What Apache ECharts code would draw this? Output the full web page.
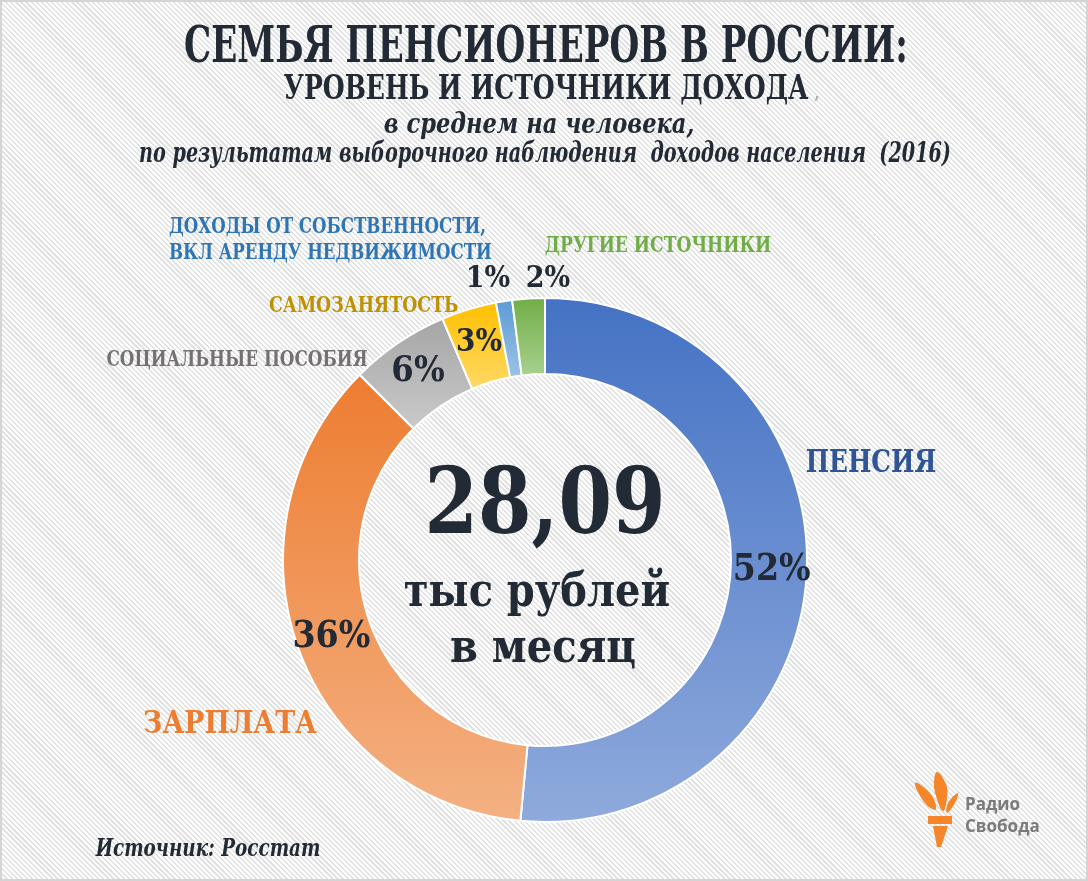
<!DOCTYPE html>
<html>
<head>
<meta charset="utf-8">
<script src="https://cdn.jsdelivr.net/npm/echarts@6/dist/echarts.min.js"></script>
<style>
html,body{margin:0;padding:0;}
body{width:1088px;height:881px;overflow:hidden;
background:repeating-linear-gradient(45deg,#ffffff 0px,#ffffff 2px,#e2e2e2 2px,#e2e2e2 3.6px);}
#chart{width:1084px;height:877px;border:2px solid #d4d4d4;}
</style>
</head>
<body>
<div id="chart"></div>
<script>
// ---- data ----
const categories = ['ПЕНСИЯ', 'ЗАРПЛАТА', 'СОЦИАЛЬНЫЕ ПОСОБИЯ', 'САМОЗАНЯТОСТЬ',
  'ДОХОДЫ ОТ СОБСТВЕННОСТИ,\nВКЛ АРЕНДУ НЕДВИЖИМОСТИ', 'ДРУГИЕ ИСТОЧНИКИ'];
const shares = [51.5, 36.0, 6.1, 3.4, 1.0, 2.0];
const totalIncome = '28,09';
const totalUnit = ['тыс рублей', 'в месяц'];
const titleLines = ['СЕМЬЯ ПЕНСИОНЕРОВ В РОССИИ:', 'УРОВЕНЬ И ИСТОЧНИКИ ДОХОДА',
  'в среднем на человека,', 'по результатам выборочного наблюдения  доходов населения  (2016)'];
const sourceText = 'Источник: Росстат';
const logoText = ['Радио', 'Свобода'];

// ---- styles ----
const FF = '"DejaVu Serif Condensed","DejaVu Serif",serif';
const DARK = '#222a35';
const grads = [['#4472c4', '#8faadc'], ['#ed7d31', '#f4b183'], ['#a5a5a5', '#cacaca'],
  ['#ffc000', '#ffd966'], ['#5b9bd5', '#9dc3e6'], ['#70ad47', '#a9d18e']];
const nameColors = ['#2f5597', '#ed7d31', '#767171', '#bf9000', '#2e75b6', '#70ad47'];
const nameLayout = [
  {x: 869, y: 462, size: 32, align: 'center', sx: 0.86},
  {x: 228, y: 723, size: 32, align: 'center', sx: 0.93},
  {x: 235, y: 358, size: 22, align: 'center', sx: 0.85},
  {x: 267, y: 304, size: 22, align: 'left', sx: 0.875},
  {x: 167, y: 238, size: 22, align: 'left', sx: 0.84},
  {x: 656, y: 244, size: 22, align: 'center', sx: 0.866}
];
const pctFont = [37, 37, 36, 31, 30, 30];
const pctPos = {4: [486, 277], 5: [546, 277]};

const chart = echarts.init(document.getElementById('chart'), null, {renderer: 'canvas'});

function txt(text, x, y, size, color, opts) {
  opts = opts || {};
  return {
    type: 'text', x: x, y: y, scaleX: opts.sx || 1, z: 10,
    style: {
      text: text, fill: color,
      font: (opts.italic ? 'italic ' : '') + 'bold ' + size + 'px ' + FF,
      align: opts.align || 'center', verticalAlign: 'middle',
      lineHeight: opts.lh || size * 1.2
    }
  };
}

const graphics = [
  txt(titleLines[0], 544, 47, 50, DARK, {sx: 0.76}),
  txt(titleLines[1], 544, 88, 34, DARK, {sx: 0.82}),
  txt(',', 815, 93, 16, '#b0b0b0'),
  txt(titleLines[2], 537, 124, 27, DARK, {italic: true, sx: 0.93}),
  txt(titleLines[3], 543, 153, 27, DARK, {italic: true, sx: 0.79}),
  txt(totalIncome, 543, 507, 92, DARK, {sx: 0.93}),
  txt(totalUnit[0], 535, 592, 46, DARK, {sx: 0.965}),
  txt(totalUnit[1], 541, 648, 46, DARK, {sx: 0.97}),
  txt(sourceText, 206, 848, 24, DARK, {italic: true, sx: 0.85})
];
categories.forEach(function (c, i) {
  const L = nameLayout[i];
  graphics.push(txt(c, L.x, L.y, L.size, nameColors[i], {align: L.align, sx: L.sx, lh: 26}));
});
// logo (torch)
const ORANGE = '#f5862a';
function leaf(pts) {
  return {type: 'polygon', z: 10, shape: {points: pts, smooth: 0.4}, style: {fill: ORANGE}};
}
graphics.push(
  leaf([[913, 781], [925, 788], [933, 800], [933, 808], [922, 800]]),
  leaf([[935, 770], [944, 782], [945, 796], [941, 809], [934, 794], [932, 781]]),
  leaf([[956, 791], [953, 801], [945, 811], [946, 801]]),
  {type: 'polygon', z: 10, shape: {points: [[926, 814], [950, 814], [950, 822], [926, 822]]}, style: {fill: ORANGE}},
  {type: 'polygon', z: 10, shape: {points: [[931, 824], [946, 824], [939, 845], [935, 845]]}, style: {fill: ORANGE}},
  {type: 'text', x: 963, y: 803, z: 10, style: {text: logoText[0], fill: '#7b7b7b', font: 'bold 17px "Open Sans",sans-serif', align: 'left', verticalAlign: 'middle'}},
  {type: 'text', x: 963, y: 825, z: 10, style: {text: logoText[1], fill: '#7b7b7b', font: 'bold 17px "Open Sans",sans-serif', align: 'left', verticalAlign: 'middle'}}
);

const pieData = shares.map(function (v, i) {
  return {
    name: categories[i], value: v,
    itemStyle: {color: new echarts.graphic.LinearGradient(0, 0, 0, 1, [
      {offset: 0, color: grads[i][0]}, {offset: 1, color: grads[i][1]}])},
    label: {fontSize: pctFont[i]}
  };
});

chart.setOption({
  backgroundColor: 'transparent',
  animation: false,
  graphic: graphics,
  series: [{
    type: 'pie',
    center: [543, 558],
    radius: [186, 262],
    startAngle: 90,
    clockwise: true,
    avoidLabelOverlap: false,
    itemStyle: {borderColor: '#ffffff', borderWidth: 2},
    label: {
      show: true, position: 'inside', color: DARK,
      fontFamily: FF, fontWeight: 'bold',
      formatter: function (p) { return Math.round(p.value) + '%'; }
    },
    labelLine: {show: false},
    labelLayout: function (p) {
      const pos = pctPos[p.dataIndex];
      if (pos) return {x: pos[0], y: pos[1], align: 'center', verticalAlign: 'middle'};
      return {};
    },
    emphasis: {disabled: true},
    data: pieData
  }]
});
</script>
</body>
</html>
